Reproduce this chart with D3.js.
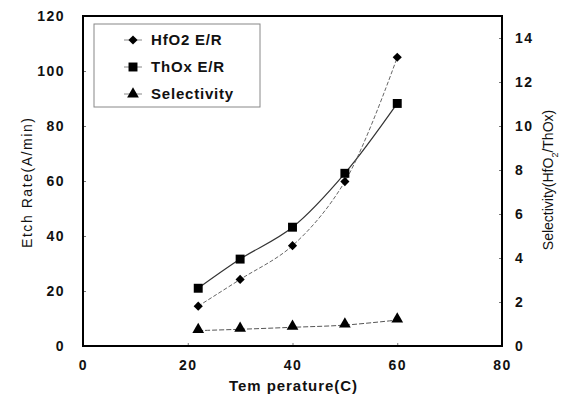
<!DOCTYPE html>
<html>
<head>
<meta charset="utf-8">
<script src="https://cdn.jsdelivr.net/npm/d3@7"></script>
<style>
body { margin: 0; background: #fff; }
text { font-family: "Liberation Sans", Arial, sans-serif; fill: #111; }
</style>
</head>
<body>
<div id="chart"></div>
<script>
// Data
var temps = [22, 30, 40, 50, 60];
var hfo2 = [14.5, 24.2, 36.5, 59.8, 105];
var thox = [21, 31.6, 43.2, 62.8, 88.2];
var selectivity = [0.70, 0.76, 0.85, 0.95, 1.18];
var xTicks = [0, 20, 40, 60, 80];
var yTicks = [0, 20, 40, 60, 80, 100, 120];
var y2Ticks = [0, 2, 4, 6, 8, 10, 12, 14];

var W = 561, H = 398;
var margin = {top: 16, right: 60, bottom: 52, left: 83};
var width = 502 - margin.left;
var height = 346 - margin.top;

var svg = d3.select("#chart").append("svg")
    .attr("width", W).attr("height", H);
var g = svg.append("g")
    .attr("transform", "translate(" + margin.left + "," + margin.top + ")");

var x = d3.scaleLinear().domain([0, 80]).range([0, width]);
var y = d3.scaleLinear().domain([0, 120]).range([height, 0]);
var y2 = d3.scaleLinear().domain([0, 15]).range([height, 0]);

// Axes, ticks pointing inward
var xAxis = g.append("g").attr("transform", "translate(0," + height + ")")
    .call(d3.axisBottom(x).tickValues(xTicks).tickSize(-3).tickPadding(14));
var yAxis = g.append("g")
    .call(d3.axisLeft(y).tickValues(yTicks).tickSize(-3).tickPadding(18));
var y2Axis = g.append("g").attr("transform", "translate(" + width + ",0)")
    .call(d3.axisRight(y2).tickValues(y2Ticks).tickSize(-3).tickPadding(13));

[xAxis, yAxis, y2Axis].forEach(function(a) {
    a.select(".domain").remove();
    a.selectAll(".tick line").attr("stroke", "#777");
    a.selectAll(".tick text")
        .style("font-size", "14px").style("font-weight", "bold")
        .style("letter-spacing", "1.5px");
});

// Frame
g.append("rect")
    .attr("width", width).attr("height", height)
    .attr("fill", "none").attr("stroke", "#000").attr("stroke-width", 2);

// Axis titles
svg.append("text")
    .attr("transform", "translate(32,183) rotate(-90)")
    .attr("text-anchor", "middle")
    .attr("textLength", 130).attr("lengthAdjust", "spacing")
    .style("font-size", "14px")
    .text("Etch Rate(A/min)");

var t2 = svg.append("text")
    .attr("transform", "translate(553,180) rotate(-90)")
    .attr("text-anchor", "middle")
    .style("font-size", "14px");
t2.append("tspan").text("Selectivity(HfO");
t2.append("tspan").attr("baseline-shift", "sub").style("font-size", "9px").text("2");
t2.append("tspan").text("/ThOx)");

svg.append("text")
    .attr("x", 293).attr("y", 391)
    .attr("text-anchor", "middle")
    .attr("textLength", 128).attr("lengthAdjust", "spacing")
    .style("font-size", "15px").style("font-weight", "bold")
    .text("Tem perature(C)");

// Lines
var line = function(vals, scale) {
    return d3.line()
        .x(function(d, i) { return x(temps[i]); })
        .y(function(d) { return scale(d); })
        .curve(d3.curveCatmullRom)(vals);
};

g.append("path").attr("d", line(thox, y))
    .attr("fill", "none").attr("stroke", "#333").attr("stroke-width", 1.2);
g.append("path").attr("d", line(hfo2, y))
    .attr("fill", "none").attr("stroke", "#666").attr("stroke-width", 1)
    .attr("stroke-dasharray", "4,2");
g.append("path").attr("d", line(selectivity, y2))
    .attr("fill", "none").attr("stroke", "#555").attr("stroke-width", 1)
    .attr("stroke-dasharray", "5,2");

// Markers (diamond = square turned 45 degrees)
var diamond = d3.symbol().type(d3.symbolSquare).size(42);
var square = d3.symbol().type(d3.symbolSquare).size(80);
var triangle = d3.symbol().type(d3.symbolTriangle).size(60);

g.selectAll(".hf").data(hfo2).join("path")
    .attr("d", diamond)
    .attr("transform", function(d, i) { return "translate(" + x(temps[i]) + "," + y(d) + ") rotate(45)"; })
    .attr("fill", "#000");
g.selectAll(".th").data(thox).join("path")
    .attr("d", square)
    .attr("transform", function(d, i) { return "translate(" + x(temps[i]) + "," + y(d) + ")"; })
    .attr("fill", "#000");
g.selectAll(".se").data(selectivity).join("path")
    .attr("d", triangle)
    .attr("transform", function(d, i) { return "translate(" + x(temps[i]) + "," + (y2(d) - 1) + ")"; })
    .attr("fill", "#000");

// Legend
var legend = svg.append("g");
legend.append("rect")
    .attr("x", 94).attr("y", 24).attr("width", 166).attr("height", 83)
    .attr("fill", "#fff").attr("stroke", "#888").attr("stroke-width", 1);
var items = [
    {name: "HfO2 E/R", sym: diamond, rot: 45},
    {name: "ThOx E/R", sym: square, rot: 0},
    {name: "Selectivity", sym: triangle, rot: 0}
];
items.forEach(function(d, i) {
    var cy = 40 + i * 27;
    legend.append("line")
        .attr("x1", 124).attr("x2", 142).attr("y1", cy).attr("y2", cy)
        .attr("stroke", "#888");
    legend.append("path").attr("d", d.sym)
        .attr("transform", "translate(133," + cy + ") rotate(" + d.rot + ")").attr("fill", "#000");
    legend.append("text")
        .attr("x", 151).attr("y", cy + 5)
        .style("font-size", "15px").style("font-weight", "bold")
        .style("letter-spacing", "0.8px")
        .text(d.name);
});
</script>
</body>
</html>
